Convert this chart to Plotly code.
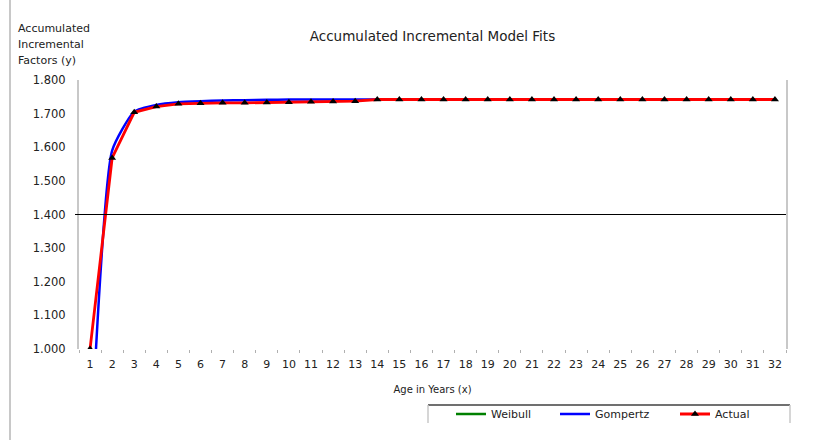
import plotly.graph_objects as go

ages = list(range(1, 33))
actual = [1.000, 1.568, 1.704, 1.721, 1.729, 1.731, 1.732, 1.732, 1.733, 1.734,
          1.735, 1.736, 1.737, 1.742, 1.742, 1.742, 1.742, 1.742, 1.742, 1.742,
          1.742, 1.742, 1.742, 1.742, 1.742, 1.742, 1.742, 1.742, 1.742, 1.742,
          1.742, 1.742]
gompertz = [0.660, 1.590, 1.706, 1.726, 1.734, 1.737, 1.739, 1.740, 1.741, 1.742,
            1.742, 1.742, 1.742, 1.742, 1.742, 1.742, 1.742, 1.742, 1.742, 1.742,
            1.742, 1.742, 1.742, 1.742, 1.742, 1.742, 1.742, 1.742, 1.742, 1.742,
            1.742, 1.742]
weibull = [None] * 32
y_ticks = [1.0, 1.1, 1.2, 1.3, 1.4, 1.5, 1.6, 1.7, 1.8]
cross_value = 1.4
y_title_lines = ["Accumulated", "Incremental", "Factors (y)"]

W, H = 822, 440
L, R, T, B = 79, 786, 80, 349
def px(x): return (x - L) / (R - L)
def py(y): return (B - y) / (B - T)

FONT = "DejaVu Sans"
fig = go.Figure()
fig.add_trace(go.Scatter(x=ages, y=weibull, name="Weibull", mode="lines",
                         line=dict(color="#008000", width=2.5), legend="legend"))
fig.add_trace(go.Scatter(x=ages, y=gompertz, name="Gompertz", mode="lines",
                         line=dict(color="#0000ff", width=2.5, shape="spline",
                                   smoothing=0.5),
                         legend="legend2"))
fig.add_trace(go.Scatter(x=ages, y=actual, name="Actual", mode="lines+markers",
                         line=dict(color="#ff0000", width=2.8),
                         marker=dict(symbol="triangle-up", size=7, color="black"),
                         legend="legend3"))

leg_common = dict(orientation="h", xref="container", yref="container",
                  xanchor="left", yanchor="middle", bgcolor="rgba(0,0,0,0)",
                  font=dict(family=FONT, size=11, color="#222"))
fig.update_layout(
    width=W, height=H,
    paper_bgcolor="white", plot_bgcolor="white",
    margin=dict(l=L, r=W - R, t=T, b=H - B, autoexpand=False),
    title=dict(text="Accumulated Incremental Model Fits", xref="paper", x=0.5,
               xanchor="center", yref="container", y=1 - 36 / H, yanchor="middle",
               font=dict(family=FONT, size=13.5, color="#222")),
    legend=dict(x=(491 - 40) / W, y=1 - 414 / H, **leg_common),
    legend2=dict(x=(595 - 40) / W, y=1 - 414 / H, **leg_common),
    legend3=dict(x=(715 - 40) / W, y=1 - 414 / H, **leg_common),
    xaxis=dict(range=[0.5, 32.5], tickmode="array", tickvals=ages,
               ticktext=[str(a) for a in ages], ticks="", showgrid=False,
               zeroline=False, showline=False, ticklabelstandoff=7,
               tickfont=dict(family=FONT, size=11, color="#222"),
               minor=dict(tickmode="linear", tick0=0.5, dtick=1, ticks="outside",
                          ticklen=3, tickcolor="#b0b0b0", showgrid=False),
               title=dict(text="Age in Years (x)", standoff=15,
                          font=dict(family=FONT, size=10, color="#222"))),
    yaxis=dict(range=[1.0, 1.8], tickmode="array", tickvals=y_ticks,
               ticktext=[f"{v:.3f}" for v in y_ticks], ticks="", showgrid=False,
               zeroline=False, showline=True, linecolor="#c8c8c8", linewidth=2,
               mirror=True, ticklabelstandoff=9,
               tickfont=dict(family=FONT, size=11.5, color="#222")),
    showlegend=True,
)

# horizontal axis crossing line
fig.add_shape(type="line", xref="paper", yref="y", x0=px(75), x1=1, y0=cross_value,
              y1=cross_value, line=dict(color="black", width=1.2))
# outer chart border (left)
fig.add_shape(type="line", xref="paper", yref="paper", x0=px(10), x1=px(10),
              y0=py(440), y1=py(0), line=dict(color="#c8c8c8", width=2))
# legend box
fig.add_shape(type="line", xref="paper", yref="paper", x0=px(428), x1=px(790),
              y0=py(405), y1=py(405), line=dict(color="#404040", width=1.5))
for xx in (428, 790):
    fig.add_shape(type="line", xref="paper", yref="paper", x0=px(xx), x1=px(xx),
                  y0=py(405), y1=py(423), line=dict(color="#c8c8c8", width=1.5))

for line_text, yy in zip(y_title_lines, (29, 44, 60)):
    fig.add_annotation(text=line_text, xref="paper", yref="paper", x=px(16), y=py(yy),
                       xanchor="left", yanchor="middle", align="left", showarrow=False,
                       font=dict(family=FONT, size=11, color="#222"))

fig.write_html("out.html", config={"displayModeBar": False},
               post_script="document.body.style.margin='0';document.body.style.padding='0';")
